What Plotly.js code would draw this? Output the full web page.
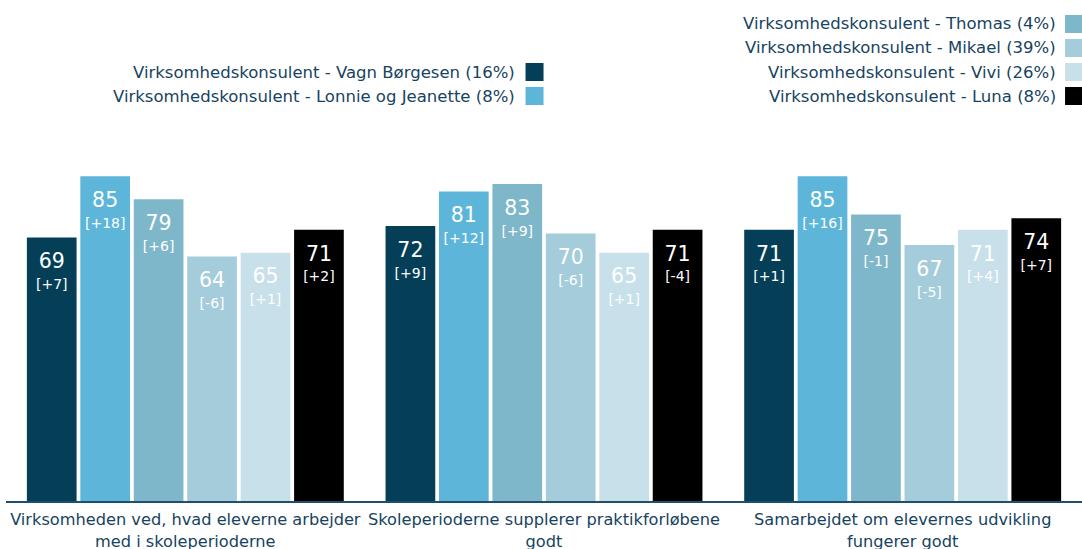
<!DOCTYPE html>
<html>
<head>
<meta charset="utf-8">
<script src="https://cdn.plot.ly/plotly-3.0.1.min.js"></script>
<style>
  html, body { margin: 0; padding: 0; background: #fff; }
  #chart { width: 1082px; height: 549px; }
</style>
</head>
<body>
<div id="chart"></div>
<script>
// ---- data ----
const categories = [
  "Virksomheden ved, hvad eleverne arbejder<br>med i skoleperioderne",
  "Skoleperioderne supplerer praktikforløbene<br>godt",
  "Samarbejdet om elevernes udvikling<br>fungerer godt"
];
const seriesNames = [
  "Virksomhedskonsulent - Vagn Børgesen (16%)",
  "Virksomhedskonsulent - Lonnie og Jeanette (8%)",
  "Virksomhedskonsulent - Thomas (4%)",
  "Virksomhedskonsulent - Mikael (39%)",
  "Virksomhedskonsulent - Vivi (26%)",
  "Virksomhedskonsulent - Luna (8%)"
];
const vagn    = [69, 72, 71];
const lonnie  = [85, 81, 85];
const thomas  = [79, 83, 75];
const mikael  = [64, 70, 67];
const vivi    = [65, 65, 71];
const luna    = [71, 71, 74];
const vagnDiff   = ["+7", "+9", "+1"];
const lonnieDiff = ["+18", "+12", "+16"];
const thomasDiff = ["+6", "+9", "-1"];
const mikaelDiff = ["-6", "-6", "-5"];
const viviDiff   = ["+1", "+1", "+4"];
const lunaDiff   = ["+2", "-4", "+7"];
const colors = ["#043f57", "#5db6da", "#7eb6ca", "#a4ccdb", "#c8e0ea", "#000000"];

const values = [vagn, lonnie, thomas, mikael, vivi, luna];
const diffs = [vagnDiff, lonnieDiff, thomasDiff, mikaelDiff, viviDiff, lunaDiff];

const FONT = "DejaVu Sans, sans-serif";
const textColor = "#16435f";

// ---- bars ----
const traces = values.map((vals, i) => ({
  type: "bar",
  name: seriesNames[i],
  x: categories,
  y: vals,
  marker: { color: colors[i] },
  text: vals.map((v, j) =>
    '<span style="font-size:8px">&nbsp;</span><br>' +
    '<span style="font-size:20.5px">' + v + '</span><br>' +
    '<span style="font-size:14px">[' + diffs[i][j] + ']</span>'),
  textposition: "inside",
  insidetextanchor: "end",
  textangle: 0,
  textfont: { family: FONT, size: 16, color: "#ffffff" },
  hoverinfo: "skip",
  showlegend: false
}));

// ---- custom legends (symbol on the right of the text) ----
const legendLeft = [0, 1];
const legendRight = [2, 3, 4, 5];
const rowY = [1.2487, 1.1859, 1.1230, 1.0602];
const annotations = [];
const shapes = [];
function addEntry(idx, xText, xBox, y) {
  annotations.push({
    xref: "paper", yref: "paper", x: xText, y: y,
    xanchor: "right", yanchor: "middle", showarrow: false,
    text: seriesNames[idx],
    font: { family: FONT, size: 16.5, color: textColor }
  });
  shapes.push({
    type: "rect", xref: "paper", yref: "paper",
    xsizemode: "pixel", ysizemode: "pixel",
    xanchor: xBox, yanchor: y,
    x0: -9, x1: 9, y0: -9, y1: 9,
    fillcolor: colors[idx], line: { width: 0 }
  });
}
legendLeft.forEach((idx, k) => addEntry(idx, 0.4753, 0.4912, rowY[k + 2]));
legendRight.forEach((idx, k) => addEntry(idx, 0.9777, 0.9926, rowY[k]));

const layout = {
  width: 1082,
  height: 549,
  margin: { l: 6, r: 0, t: 119, b: 48 },
  paper_bgcolor: "#ffffff",
  plot_bgcolor: "#ffffff",
  barmode: "group",
  bargap: 0.106,
  bargroupgap: 0.07,
  font: { family: FONT, color: textColor },
  xaxis: {
    type: "category",
    showline: true,
    linecolor: "#1f4e6e",
    linewidth: 2,
    ticks: "",
    ticklabelstandoff: 3,
    automargin: false,
    tickfont: { family: FONT, size: 16.2, color: textColor }
  },
  yaxis: {
    range: [0, 100],
    visible: false,
    showgrid: false,
    zeroline: false
  },
  annotations: annotations,
  shapes: shapes
};

Plotly.newPlot("chart", traces, layout, { displayModeBar: false, staticPlot: true });
</script>
</body>
</html>
